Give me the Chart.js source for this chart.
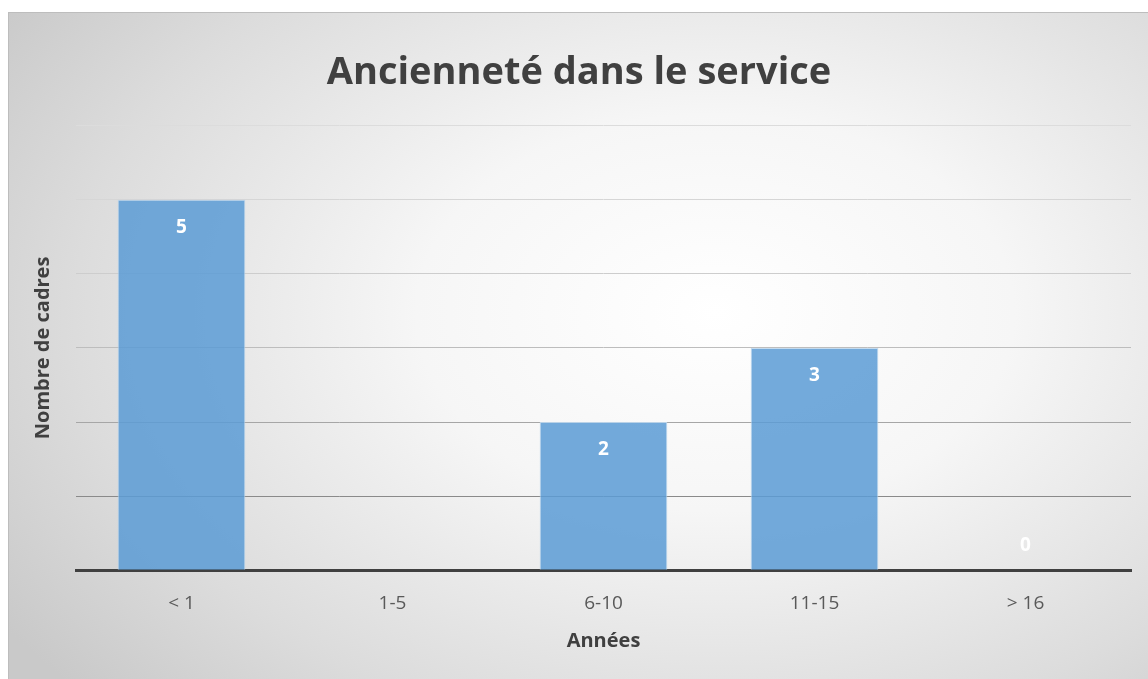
<!DOCTYPE html>
<html>
<head>
<meta charset="utf-8">
<script src="https://cdn.jsdelivr.net/npm/chart.js@4/dist/chart.umd.min.js"></script>
<style>
  html, body { margin: 0; padding: 0; background: #ffffff; }
  #frame {
    position: absolute; left: 8px; top: 12px; width: 1140px; height: 667px;
    border-top: 1px solid #bdbdbd; border-left: 1px solid #bdbdbd; box-sizing: border-box;
    background: radial-gradient(ellipse 75% 85% at 62% 45%, #ffffff 0%, #f6f6f6 35%, #dcdcdc 75%, #c9c9c9 100%);
  }
  canvas { display: block; }
</style>
</head>
<body>
<div id="frame"><canvas id="chart" width="1139" height="666"></canvas></div>
<script>
// Data
const categories = ['< 1', '1-5', '6-10', '11-15', '> 16'];
const cadres = [5, null, 2, 3, 0];
const yTicks = [0, 1, 2, 3, 4, 5, 6];

const fontFamily = "'Open Sans', 'Liberation Sans', sans-serif";

// Value labels drawn inside the top of each bar (above the axis when zero)
const barLabels = {
    id: 'barLabels',
    afterDatasetsDraw(chart) {
        const ctx = chart.ctx;
        const meta = chart.getDatasetMeta(0);
        ctx.save();
        ctx.fillStyle = '#ffffff';
        ctx.font = 'bold 19px ' + fontFamily;
        ctx.textAlign = 'center';
        ctx.textBaseline = 'middle';
        meta.data.forEach((bar, i) => {
            const v = cadres[i];
            if (v === null) return;
            const y = v === 0 ? bar.y - 25 : bar.y + 28;
            ctx.fillText(String(v), bar.x, y);
        });
        ctx.restore();
    }
};

new Chart(document.getElementById('chart').getContext('2d'), {
    type: 'bar',
    data: {
        labels: categories,
        datasets: [{
            label: 'Nombre de cadres',
            data: cadres,
            backgroundColor: 'rgba(91, 155, 213, 0.85)',
            borderColor: 'rgba(189, 215, 238, 0.9)',
            borderWidth: 1,
            barPercentage: 1,
            categoryPercentage: 0.605
        }]
    },
    options: {
        responsive: false,
        animation: false,
        layout: { padding: { left: 18, right: 17, top: 0, bottom: 22 } },
        plugins: {
            legend: { display: false },
            tooltip: { enabled: false },
            title: {
                display: true,
                text: 'Ancienneté dans le service',
                color: '#404040',
                font: { family: fontFamily, size: 38, weight: 'bold' },
                padding: { top: 37, bottom: 30 }
            }
        },
        scales: {
            x: {
                grid: { display: false },
                border: { color: '#404040', width: 3 },
                ticks: { color: '#595959', font: { family: fontFamily, size: 19 }, padding: 14 },
                title: {
                    display: true, text: 'Années', color: '#404040',
                    font: { family: fontFamily, size: 20, weight: 'bold' }, padding: { top: 0 }
                }
            },
            y: {
                min: yTicks[0],
                max: yTicks[yTicks.length - 1],
                afterBuildTicks(scale) { scale.ticks = yTicks.map(v => ({ value: v })); },
                ticks: { display: false },
                border: { display: false },
                grid: {
                    drawTicks: false,
                    lineWidth: 1,
                    color: ctx => {
                        const shades = ['#404040', '#8a8a8a', '#a6a6a6', '#bdbdbd', '#cdcdcd', '#d6d6d6', '#dcdcdc'];
                        return shades[ctx.index] || '#d9d9d9';
                    }
                },
                title: {
                    display: true, text: 'Nombre de cadres', color: '#404040',
                    font: { family: fontFamily, size: 20, weight: 'bold' }, padding: { bottom: 21 }
                }
            }
        }
    },
    plugins: [barLabels]
});
</script>
</body>
</html>
